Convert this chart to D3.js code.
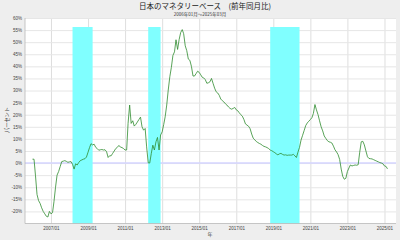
<!DOCTYPE html>
<html>
<head>
<meta charset="utf-8">
<script src="https://cdn.jsdelivr.net/npm/d3@7"></script>
<style>
  body { margin: 0; background: #eeeeee; }
  svg { display: block; font-family: "Noto Sans CJK JP", "Noto Sans", sans-serif; }
</style>
</head>
<body>
<div id="chart"></div>
<script>
// Japan monetary base, YoY % ////////////////////////////////////////////////

var startYear = 2006;
var startMonth = 0;

// one row per year, Jan..Dec
var yoy = [
  1.6, 1.6, -5, -13, -15.5, -16.7, -18.5, -20, -21, -22, -22.3, -20,      // 2006
  -21, -20.5, -16, -10, -5, -3.5, -1.5, 0.6, 0.8, 1, 0.7, 0.3,            // 2007
  0.5, 0.6, -0.5, -2.5, -0.3, -0.8, 0.2, 1, 1.3, 1.6, 1.8, 2.5,           // 2008
  4.5, 6.5, 8, 7.5, 7.8, 6.5, 6, 5.3, 5.5, 5.6, 5.4, 5.5,                 // 2009
  4.7, 2.3, 3, 3, 4, 5, 6, 6.5, 7.3, 6.6, 6.4, 6,                         // 2010
  5.4, 5.4, 16.4, 24, 16.4, 17.5, 15.3, 16, 17, 18, 19, 15,               // 2011
  13.6, 14.3, 6.7, 0.1, 0, 4, 7.4, 5.4, 8.8, 10.6, 5.4, 11.6,             // 2012
  12.9, 16, 19.1, 24, 30.2, 35.7, 39.5, 44.5, 46, 51, 47, 51,             // 2013
  54, 55.2, 53.5, 48.5, 46.5, 43, 42.5, 40, 36, 36, 37, 38,               // 2014
  37.5, 36.5, 35.5, 35.2, 34.5, 33, 33.2, 33.6, 35, 33, 31, 29.5,         // 2015
  29, 28, 26.5, 25.8, 25.3, 24.5, 24, 23.2, 22.6, 22.3, 22.6, 23,         // 2016
  22, 21.6, 20.8, 20, 19.4, 18, 16.2, 15.7, 15.2, 14.2, 12, 10.3,         // 2017
  9.6, 8.9, 8.5, 8.1, 7.8, 7.3, 6.9, 6.7, 6.4, 6, 5.4, 5.1,               // 2018
  4.7, 4.3, 3.8, 3.4, 3.8, 4, 3.6, 3.3, 3.4, 3.2, 3.3, 3.3,               // 2019
  3.3, 3.6, 3.0, 2.3, 4.5, 6.5, 9.5, 11.5, 13.5, 15.5, 16.6, 17.3,        // 2020
  18, 18.8, 20.5, 24.2, 22, 20, 17.5, 15, 13.3, 11.2, 10.2, 9.3,          // 2021
  8.8, 8.6, 8.3, 7, 5.5, 4.6, 3.5, 1.5, -2.5, -5.5, -6.7, -6.3,           // 2022
  -3.5, -2, -0.8, -1.2, -1, -0.8, -0.9, -0.7, 4.5, 8.8, 9, 7.5,           // 2023
  5, 2.6, 1.9, 1.8, 1.7, 1.4, 1.1, 0.8, 0.5, 0.2, 0.0, -0.3,              // 2024
  -1.2, -1.4, -2.4                                                        // 2025
];

// recession bands [start, end] as 'YYYY-MM'
var recessions = [['2008-03', '2009-04'], ['2012-04', '2012-12'], ['2018-11', '2020-06']];

var yTicks = d3.range(-20, 61, 5);
var xTickYears = d3.range(2007, 2026, 2);

var title = '日本のマネタリーベース\u3000(前年同月比)';
var subtitle = '2006年01月～2025年03月';

///////////////////////////////////////////////////////////////////////////////

var width = 400;
var height = 240;
var plotLeft = 25, plotRight = 396, plotTop = 18, plotBottom = 223.5;

var parse = d3.timeParse('%Y-%m');

var data = yoy.map(function(v, i){
  return { date: new Date(startYear, startMonth + i, 1), value: v };
});

var svg = d3.select('#chart').append('svg')
  .attr('width', width)
  .attr('height', height);

var x = d3.scaleTime()
  .domain([new Date(2005, 7, 7), new Date(2025, 7, 16)])
  .range([plotLeft, plotRight]);

var y = d3.scaleLinear()
  .domain([-25, 60])
  .range([plotBottom, plotTop]);

svg.append('rect')
  .attr('width', width)
  .attr('height', height)
  .style('fill', '#eeeeee');

svg.append('rect')
  .attr('x', plotLeft)
  .attr('y', plotTop)
  .attr('width', plotRight - plotLeft)
  .attr('height', plotBottom - plotTop)
  .style('fill', 'white');

// grid
svg.append('g')
  .attr('transform', 'translate(0,' + plotBottom + ')')
  .call(d3.axisBottom(x)
    .tickValues(xTickYears.map(function(d){ return new Date(d, 0, 1); }))
    .tickFormat(d3.timeFormat('%Y/%m'))
    .tickSizeInner(-(plotBottom - plotTop))
    .tickSizeOuter(0)
    .tickPadding(3))
  .call(function(g){
    g.select('.domain').remove();
    g.selectAll('line').style('stroke', '#dedede');
    g.selectAll('text').style('font-size', '4.5px').style('fill', '#444');
  });

svg.append('g')
  .attr('transform', 'translate(' + plotLeft + ',0)')
  .call(d3.axisLeft(y)
    .tickValues(yTicks)
    .tickFormat(function(d){ return d + '%'; })
    .tickSizeInner(-(plotRight - plotLeft))
    .tickSizeOuter(0)
    .tickPadding(3))
  .call(function(g){
    g.select('.domain').remove();
    g.selectAll('line').style('stroke', '#e6e6e6');
    g.selectAll('text').style('font-size', '4.5px').style('fill', '#444');
  });

// zero line
svg.append('line')
  .attr('x1', plotLeft)
  .attr('x2', plotRight)
  .attr('y1', y(0))
  .attr('y2', y(0))
  .style('stroke', '#d4d4ff')
  .style('stroke-width', 1.5);

// recession bands
svg.append('g').selectAll('rect')
  .data(recessions)
  .enter().append('rect')
  .attr('x', function(d){ return x(parse(d[0])); })
  .attr('width', function(d){ return x(parse(d[1])) - x(parse(d[0])); })
  .attr('y', plotTop + 9)
  .attr('height', plotBottom - plotTop - 9)
  .style('fill', '#80ffff');

// series
var line = d3.line()
  .x(function(d){ return x(d.date); })
  .y(function(d){ return y(d.value); });

svg.append('path')
  .datum(data)
  .attr('d', line)
  .style('fill', 'none')
  .style('stroke', '#2e8b2e')
  .style('stroke-width', 0.8);

// frame
svg.append('path')
  .attr('d', 'M' + plotLeft + ',' + plotTop + 'V' + plotBottom + 'H' + plotRight)
  .style('fill', 'none')
  .style('stroke', '#b8b8b8')
  .style('stroke-width', 0.8);

// texts
svg.append('text')
  .attr('x', 205)
  .attr('y', 9)
  .attr('text-anchor', 'middle')
  .style('font-size', '7.5px')
  .style('fill', '#222')
  .text(title);

svg.append('text')
  .attr('x', 200)
  .attr('y', 15.5)
  .attr('text-anchor', 'middle')
  .style('font-size', '4.5px')
  .style('fill', '#333')
  .text(subtitle);

svg.append('text')
  .attr('transform', 'translate(9,120) rotate(-90)')
  .attr('text-anchor', 'middle')
  .style('font-size', '5.2px')
  .style('fill', '#444')
  .text('パーセント');

svg.append('text')
  .attr('x', 210)
  .attr('y', 235.5)
  .attr('text-anchor', 'middle')
  .style('font-size', '5px')
  .style('fill', '#444')
  .text('年');
</script>
</body>
</html>
